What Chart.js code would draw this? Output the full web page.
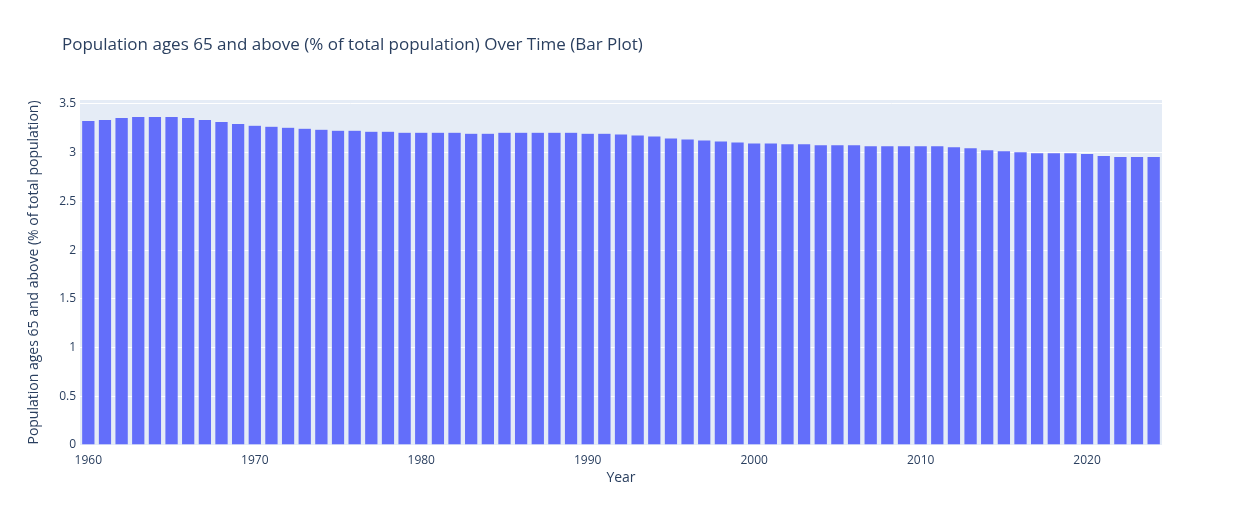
<!DOCTYPE html>
<html>
<head>
<meta charset="utf-8">
<script src="https://cdn.jsdelivr.net/npm/chart.js@4"></script>
<style>
  html, body { margin: 0; padding: 0; background: #fff; }
  #wrap { width: 1242px; height: 525px; }
</style>
</head>
<body>
<div id="wrap"><canvas id="Chart" width="1242" height="525"></canvas></div>
<script>
const years = [];
for (let y = 1960; y <= 2024; y++) years.push(y);

const values = [
    3.33, 3.34, 3.36, 3.37, 3.37, 3.37, 3.36, 3.34, 3.32, 3.30,
    3.28, 3.27, 3.26, 3.25, 3.24, 3.23, 3.23, 3.22, 3.22, 3.21,
    3.21, 3.21, 3.21, 3.20, 3.20, 3.21, 3.21, 3.21, 3.21, 3.21,
    3.20, 3.20, 3.19, 3.18, 3.17, 3.15, 3.14, 3.13, 3.12, 3.11,
    3.10, 3.10, 3.09, 3.09, 3.08, 3.08, 3.08, 3.07, 3.07, 3.07,
    3.07, 3.07, 3.06, 3.05, 3.03, 3.02, 3.01, 3.00, 3.00, 3.00,
    2.99, 2.97, 2.96, 2.96, 2.96
];

const xTicks = [1960, 1970, 1980, 1990, 2000, 2010, 2020];
const yTicks = [0, 0.5, 1, 1.5, 2, 2.5, 3, 3.5];

const titleText = 'Population ages 65 and above (% of total population) Over Time (Bar Plot)';
const fontFamily = '"Open Sans", Verdana, Arial, sans-serif';
const textColor = '#2a3f5f';

const plotBg = {
    id: 'plotBg',
    beforeDraw(chart) {
        const { ctx, chartArea: a } = chart;
        ctx.save();
        ctx.fillStyle = '#E5ECF6';
        ctx.fillRect(a.left, a.top, a.right - a.left, a.bottom - a.top);
        ctx.restore();
    },
    afterDraw(chart) {
        const ctx = chart.ctx;
        ctx.save();
        ctx.fillStyle = textColor;
        ctx.font = '17px ' + fontFamily;
        ctx.textBaseline = 'middle';
        ctx.fillText(titleText, 62, 45);
        ctx.restore();
    }
};

new Chart(document.getElementById('Chart'), {
    type: 'bar',
    data: {
        datasets: [{
            data: years.map((y, i) => ({ x: y, y: values[i] })),
            backgroundColor: '#636efa',
            borderColor: '#E5ECF6',
            borderWidth: 0.5,
            barPercentage: 0.8,
            categoryPercentage: 1.0
        }]
    },
    options: {
        responsive: false,
        animation: false,
        layout: { padding: { top: 100, right: 80, left: 22, bottom: 35 } },
        plugins: { legend: { display: false }, tooltip: { enabled: false } },
        scales: {
            x: {
                type: 'linear',
                min: 1959.5,
                max: 2024.5,
                offset: false,
                grid: { display: false },
                border: { display: false },
                ticks: {
                    color: textColor,
                    font: { family: fontFamily, size: 12 },
                    maxRotation: 0,
                    padding: 0,
                    callback: v => String(v)
                },
                afterBuildTicks(scale) {
                    scale.ticks = xTicks.map(v => ({ value: v }));
                },
                title: {
                    display: true,
                    text: 'Year',
                    color: textColor,
                    font: { family: fontFamily, size: 14 },
                    padding: { top: 10 }
                },
                afterFit(scale) { scale.height = 45; }
            },
            y: {
                min: 0,
                max: 3.54,
                grid: { color: '#ffffff', lineWidth: 1, drawTicks: false },
                border: { display: false },
                ticks: {
                    color: textColor,
                    font: { family: fontFamily, size: 12 },
                    padding: 4,
                    callback: v => String(v)
                },
                afterBuildTicks(scale) {
                    scale.ticks = yTicks.map(v => ({ value: v }));
                },
                title: {
                    display: true,
                    text: 'Population ages 65 and above (% of total population)',
                    color: textColor,
                    font: { family: fontFamily, size: 14 },
                    padding: { bottom: 12 }
                },
                afterFit(scale) { scale.width = 58; }
            }
        }
    },
    plugins: [plotBg]
});
</script>
</body>
</html>
